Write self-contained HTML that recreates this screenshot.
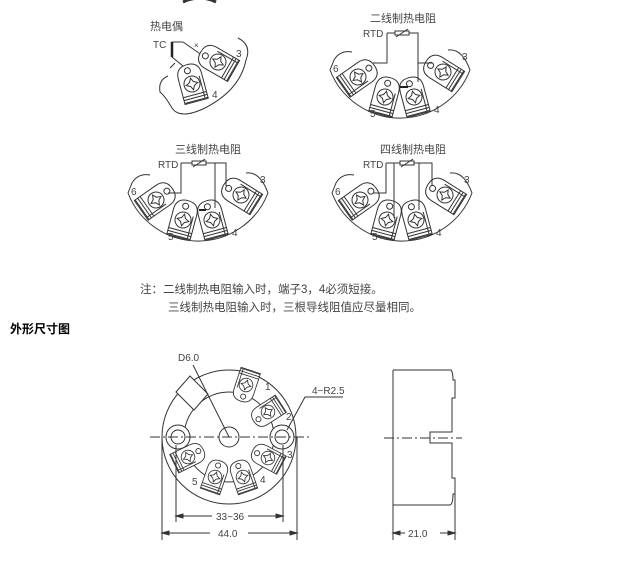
<!DOCTYPE html>
<html><head><meta charset="utf-8"><style>
html,body{margin:0;padding:0;background:#fff;width:634px;height:564px;overflow:hidden}
svg{display:block}
text{font-family:"Liberation Sans","Noto Sans CJK SC",sans-serif;fill:#444}
</style></head><body>
<svg width="634" height="564" viewBox="0 0 634 564" xmlns="http://www.w3.org/2000/svg">
<defs>
<g id="t" fill="none" stroke="#333" stroke-width="1">
<path d="M-12,18 L-12,-8 Q-12,-20 0,-20 Q12,-20 12,-8 L12,18 Z" fill="#fff"/>
<circle cx="0" cy="0" r="8"/>
<path d="M0,-6 L2,-2 L6,0 L2,2 L0,6 L-2,2 L-6,0 L-2,-2 Z"/>
<circle cx="-1" cy="-14" r="3"/>
<line x1="-12" y1="11" x2="12" y2="11"/><line x1="-12" y1="14" x2="12" y2="14"/><line x1="-12" y1="17" x2="12" y2="17"/>
<line x1="9" y1="-6" x2="9" y2="17"/>
</g>
<g id="fan">
<path d="M-70,30 A75,75 0 0 0 70,30" fill="none" stroke="#333"/>
<path d="M-70,30 L-66,20 Q-60,10 -48,12 M48,10 Q62,8 70,30" fill="none" stroke="#333"/>
<use href="#t" transform="translate(-42,37) rotate(55)"/>
<use href="#t" transform="translate(-15,57) rotate(15)"/>
<use href="#t" transform="translate(14,57) rotate(-15)"/>
<use href="#t" transform="translate(43,32) rotate(-58)"/>
<text x="-67" y="32" font-size="10">6</text>
<text x="-30" y="77" font-size="10">5</text>
<text x="34" y="73" font-size="10">4</text>
<text x="62" y="20" font-size="10">3</text>
</g>
<g id="res"><rect x="-7" y="-2" width="14" height="4" fill="#fff" stroke="#333"/><line x1="-6" y1="4" x2="6" y2="-4" stroke="#333"/></g>
</defs>

<path d="M183,2 Q200,-6 216,2" fill="none" stroke="#333" stroke-width="3"/>
<!-- TC -->
<text x="150" y="30" font-size="11">热电偶</text>
<text x="153" y="48" font-size="10">TC</text>
<path d="M183,42 L172,42 L172,57 L205,84 M183,42 L212,62" fill="none" stroke="#333"/>
<line x1="172" y1="42" x2="172" y2="57" stroke="#222" stroke-width="2.5"/>
<text x="194" y="48" font-size="8">×</text>
<line x1="170" y1="68" x2="175" y2="63" stroke="#333"/>
<path d="M238,38 Q252,45 246,60 Q240,90 205,108 Q180,120 172,108 Q165,96 160,92 Q158,80 168,76" fill="none" stroke="#333"/>
<use href="#t" transform="translate(218,62) rotate(-60)"/>
<use href="#t" transform="translate(192,84) rotate(-15)"/>
<text x="236" y="57" font-size="10">3</text>
<text x="212" y="98" font-size="10">4</text>

<!-- 2-wire -->
<text x="370" y="22" font-size="11">二线制热电阻</text>
<text x="363" y="37" font-size="10">RTD</text>
<use href="#fan" transform="translate(400,40)"/>
<path d="M387,33 L418,33 L418,82 M387,33 L387,63 L373,63 M418,63 L433,63" fill="none" stroke="#333"/>
<line x1="400" y1="87" x2="408" y2="87" stroke="#222" stroke-width="2"/>
<use href="#res" transform="translate(402,33)"/>

<!-- 3-wire -->
<text x="175" y="153" font-size="11">三线制热电阻</text>
<text x="158" y="168" font-size="10">RTD</text>
<use href="#fan" transform="translate(198,163)"/>
<path d="M181,163 L226,163 L226,186 M181,163 L181,193 L168,193 M215,163 L215,208" fill="none" stroke="#333"/>
<line x1="199" y1="210" x2="206" y2="210" stroke="#222" stroke-width="2"/>
<use href="#res" transform="translate(199,163)"/>

<!-- 4-wire -->
<text x="380" y="153" font-size="11">四线制热电阻</text>
<text x="363" y="168" font-size="10">RTD</text>
<use href="#fan" transform="translate(402,163)"/>
<path d="M386,163 L432,163 L432,186 M386,163 L386,193 L373,193 M394,163 L394,218 M419,163 L419,210" fill="none" stroke="#333"/>
<use href="#res" transform="translate(407,163)"/>

<text x="140" y="293" font-size="11.5" fill="#555">注：二线制热电阻输入时，端子3，4必须短接。</text>
<text x="168" y="311" font-size="11.5" fill="#555">三线制热电阻输入时，三根导线阻值应尽量相同。</text>
<text x="10" y="333" font-size="12" font-weight="bold" style="fill:#000">外形尺寸图</text>

<!-- bottom front view -->
<g fill="none" stroke="#333">
<circle cx="229" cy="437" r="67"/>
<circle cx="229" cy="437" r="45"/>
<circle cx="229" cy="437" r="10"/>
<circle cx="178" cy="437" r="12" fill="#fff"/><circle cx="178" cy="437" r="7"/>
<circle cx="282" cy="437" r="12" fill="#fff"/><circle cx="282" cy="437" r="7"/>
<path d="M176,392 L190,376 L208,394 L194,410 Z" fill="#fff"/>
</g>
<use href="#t" transform="translate(246,385) rotate(-162) scale(0.85)"/>
<use href="#t" transform="translate(268,412) rotate(-123) scale(0.85)"/>
<use href="#t" transform="translate(268,458) rotate(-62) scale(0.85)"/>
<use href="#t" transform="translate(243,477) rotate(-19) scale(0.85)"/>
<use href="#t" transform="translate(215,477) rotate(19) scale(0.85)"/>
<use href="#t" transform="translate(188,457) rotate(64) scale(0.85)"/>
<text x="265" y="390" font-size="10">1</text>
<text x="286" y="420" font-size="10">2</text>
<text x="287" y="458" font-size="10">3</text>
<text x="260" y="483" font-size="10">4</text>
<text x="192" y="485" font-size="10">5</text>
<line x1="150" y1="437" x2="310" y2="437" stroke="#333" stroke-dasharray="10,3,2,3"/>
<text x="178" y="361" font-size="10">D6.0</text>
<line x1="193" y1="365" x2="229" y2="437" stroke="#333"/>
<text x="312" y="394" font-size="10">4−R2.5</text>
<path d="M343,397 L305,397 L287,430" fill="none" stroke="#333"/>
<g stroke="#333" fill="none">
<line x1="176" y1="445" x2="176" y2="522"/><line x1="283" y1="445" x2="283" y2="522"/>
<line x1="162" y1="437" x2="162" y2="540"/><line x1="297" y1="437" x2="297" y2="540"/>
<line x1="176" y1="516" x2="212" y2="516"/><line x1="248" y1="516" x2="283" y2="516"/>
<line x1="162" y1="533" x2="210" y2="533"/><line x1="248" y1="533" x2="297" y2="533"/>
<path d="M176,516 l7,-2 v4 z M283,516 l-7,-2 v4 z M162,533 l7,-2 v4 z M297,533 l-7,-2 v4 z" fill="#333"/>
</g>
<text x="216" y="520" font-size="10">33~36</text>
<text x="218" y="537" font-size="10">44.0</text>

<!-- side view -->
<g fill="none" stroke="#333">
<path d="M393,370 L451,370 Q453,372 453,380 L455,380 L455,398 L452,398 L452,432 L430,432 L430,443 L452,443 L452,478 L455,478 L455,494 L453,494 Q453,504 450,505 L393,505"/>
<line x1="393" y1="370" x2="393" y2="540"/>
<line x1="455" y1="494" x2="455" y2="540"/>
<line x1="384" y1="438" x2="462" y2="438" stroke-dasharray="10,3,2,3"/>
<line x1="393" y1="533" x2="405" y2="533"/><line x1="440" y1="533" x2="455" y2="533"/>
<path d="M393,533 l7,-2 v4 z M455,533 l-7,-2 v4 z" fill="#333"/>
</g>
<text x="408" y="537" font-size="10">21.0</text>
</svg>
</body></html>
